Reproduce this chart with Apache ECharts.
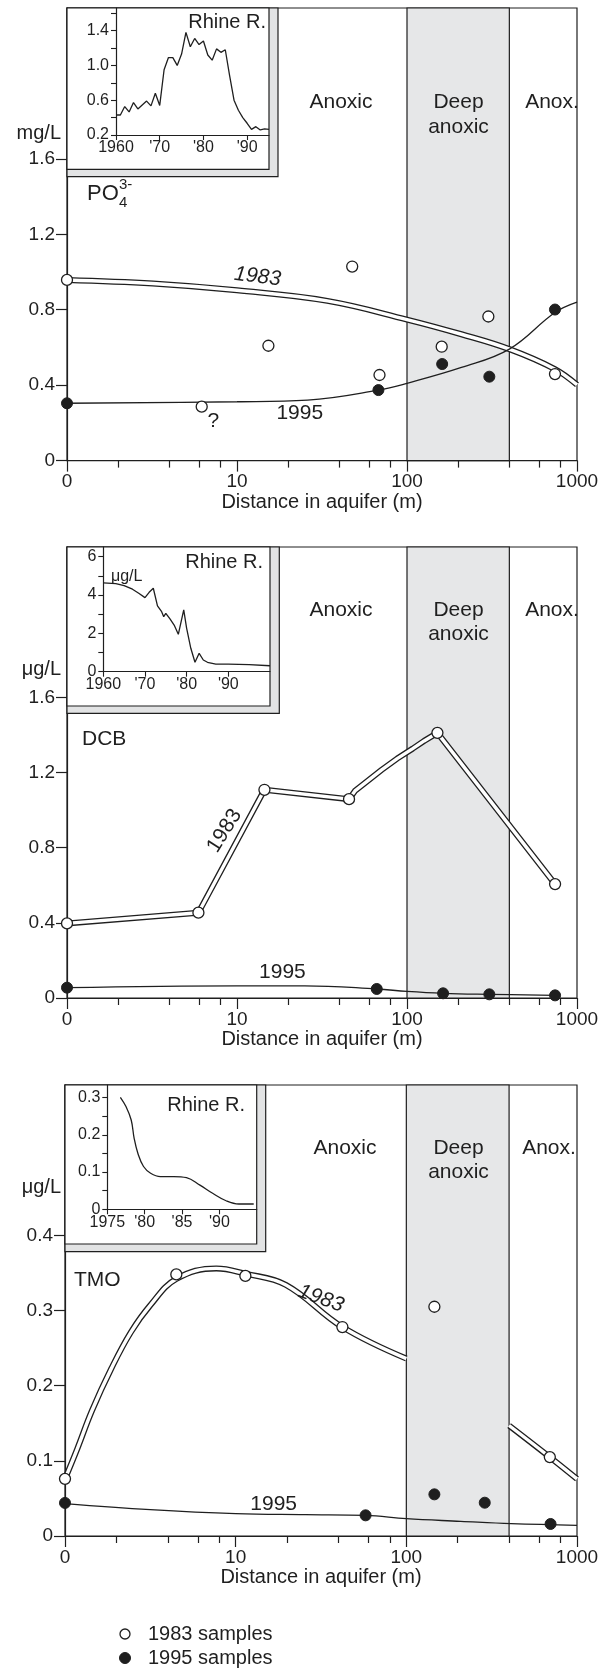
<!DOCTYPE html>
<html><head><meta charset="utf-8">
<script src="https://cdn.jsdelivr.net/npm/echarts@6/dist/echarts.min.js"></script>
<style>html,body{margin:0;padding:0;background:#fff}#c{width:603px;height:1672px}</style>
</head><body><div id="c"></div>
<script>
// ================= DATA =================
// Main x axis (distance in aquifer, m; "0" is drawn at 1 on the log scale)
const MAIN_X_TICKS = [1, 10, 100, 1000];
const MAIN_X_LABELS = ['0', '10', '100', '1000'];
const MINOR_X_TICKS = [2, 4, 6, 8, 20, 40, 60, 80, 200, 400, 600, 800];
const DEEP_ANOXIC = [100, 400];

// Panel 1: PO4 (mg/L)
const PO4_Y_TICKS = [0, 0.4, 0.8, 1.2, 1.6];
const PO4_1983_X = [1, 6.2, 15.3, 47.6, 68.9, 160, 301, 742];
const PO4_1983_Y = [0.958, 0.286, 0.609, 1.029, 0.454, 0.604, 0.764, 0.459];
const PO4_1995_X = [1, 67.9, 161, 305, 742];
const PO4_1995_Y = [0.304, 0.374, 0.512, 0.445, 0.801];
const PO4_FIT1983_X = [1, 3.2, 10, 34, 100, 209, 400, 742, 1000];
const PO4_FIT1983_Y = [0.958, 0.939, 0.903, 0.847, 0.748, 0.67, 0.591, 0.485, 0.402];
const PO4_FIT1995_X = [1, 10, 26, 68, 100, 209, 400, 742, 1000];
const PO4_FIT1995_Y = [0.304, 0.312, 0.321, 0.374, 0.41, 0.494, 0.591, 0.785, 0.84];

// Panel 2: DCB (ug/L)
const DCB_Y_TICKS = [0, 0.4, 0.8, 1.2, 1.6];
const DCB_1983_X = [1, 5.93, 14.5, 45.6, 151, 743];
const DCB_1983_Y = [0.397, 0.454, 1.108, 1.058, 1.411, 0.606];
const DCB_1995_X = [1, 66.4, 163, 305, 743];
const DCB_1995_Y = [0.055, 0.048, 0.025, 0.0195, 0.014];
const DCB_FIT1983_X = [1, 5.93, 14.5, 45.6, 49.4, 57.7, 70.9, 87.5, 108, 126, 151, 743];
const DCB_FIT1983_Y = [0.397, 0.454, 1.108, 1.058, 1.102, 1.150, 1.214, 1.274, 1.327, 1.368, 1.411, 0.606];
const DCB_FIT1995_X = [1, 10, 25, 66.4, 100, 163, 305, 743];
const DCB_FIT1995_Y = [0.055, 0.065, 0.065, 0.048, 0.035, 0.025, 0.0195, 0.014];

// Panel 3: TMO (ug/L)
const TMO_Y_TICKS = [0, 0.1, 0.2, 0.3, 0.4];
const TMO_1983_X = [1, 4.49, 11.4, 42.2, 146, 693];
const TMO_1983_Y = [0.076, 0.348, 0.346, 0.278, 0.305, 0.105];
const TMO_1995_X = [1, 57.7, 146, 288, 700];
const TMO_1995_Y = [0.044, 0.0275, 0.0554, 0.0443, 0.016];
const TMO_FIT1983_X = [1, 1.18, 1.44, 1.87, 2.43, 3.16, 4.49, 7.7, 11.4, 19.7, 42.2, 100, 200, 400, 693, 1000];
const TMO_FIT1983_Y = [0.076, 0.116, 0.167, 0.223, 0.271, 0.307, 0.342, 0.356, 0.349, 0.334, 0.278, 0.236, null, 0.147, 0.105, 0.076];
const TMO_FIT1995_X = [1, 3.16, 10, 25.6, 57.7, 100, 208, 411, 1000];
const TMO_FIT1995_Y = [0.043, 0.035, 0.0297, 0.0284, 0.0275, 0.023, 0.0195, 0.0164, 0.0142];

// Insets: Rhine River
const RHINE_PO4_YEARS = [1960,1961,1962,1963,1964,1965,1966,1967,1968,1969,1970,1971,1972,1973,1974,1975,1976,1977,1978,1979,1980,1981,1982,1983,1984,1985,1986,1987,1988,1989,1990,1991,1992,1993,1994,1995];
const RHINE_PO4 = [0.43,0.43,0.527,0.465,0.573,0.50,0.546,0.59,0.535,0.68,0.54,0.95,1.09,1.09,1.00,1.13,1.38,1.215,1.31,1.24,1.28,1.12,1.06,1.19,1.15,1.18,0.88,0.6,0.485,0.4,0.335,0.265,0.296,0.258,0.27,0.265];
const RHINE_PO4_X_TICKS = [1960, 1970, 1980, 1990];
const RHINE_PO4_Y_TICKS = [0.2,0.4,0.6,0.8,1.0,1.2,1.4,1.6];
const RHINE_PO4_Y_LABELS = [0.2, 0.6, 1.0, 1.4];

const RHINE_DCB_YEARS = [1960,1963,1965,1967,1968.5,1970,1971,1972,1973,1974,1974.5,1975,1976,1977,1978,1979.3,1980,1981,1982,1983,1984,1985,1987,1990,1995,2000];
const RHINE_DCB = [4.63,4.59,4.49,4.3,4.09,3.86,4.14,4.35,3.43,3.13,2.87,3.04,2.75,2.43,1.95,3.22,2.26,1.22,0.49,0.96,0.61,0.49,0.40,0.40,0.37,0.31];
const RHINE_DCB_X_TICKS = [1960, 1970, 1980, 1990];
const RHINE_DCB_Y_TICKS = [0,1,2,3,4,5,6];
const RHINE_DCB_Y_LABELS = [0, 2, 4, 6];

const RHINE_TMO_YEARS = [1976.75,1977.5,1978.2,1978.6,1979.1,1979.85,1980.8,1982.1,1983.9,1985.6,1987.4,1989.1,1990.9,1992.6,1994.6];
const RHINE_TMO = [0.301,0.276,0.24,0.19,0.15,0.115,0.097,0.088,0.088,0.085,0.065,0.043,0.023,0.0143,0.0143];
const RHINE_TMO_X_TICKS = [1975, 1980, 1985, 1990];
const RHINE_TMO_Y_TICKS = [0,0.05,0.1,0.15,0.2,0.25,0.3];
const RHINE_TMO_Y_LABELS = [0, 0.1, 0.2, 0.3];

const LEGEND_LABELS = ['1983 samples', '1995 samples'];

// ================= STYLE / LAYOUT =================
const FONT = 'Liberation Sans, Arial, Helvetica, sans-serif';
const INK = '#1f1f1f';
const SHADE = '#e6e7e8';
const BAND = '#e2e3e4';

const zip = (xs, ys) => xs.map((x, i) => [x, ys[i] == null ? '-' : ys[i]]);
const fmt1 = v => v === 0 ? '0' : v.toFixed(1);
const yrFmt = first => v => v === first ? String(v) : "'" + String(v).slice(2);

const PANELS = [
  { grid:{left:67, top:8, width:510, height:452.6}, ymax:2.4, yTicks:PO4_Y_TICKS,
    s83:[PO4_1983_X,PO4_1983_Y], s95:[PO4_1995_X,PO4_1995_Y],
    f83:[PO4_FIT1983_X,PO4_FIT1983_Y], f95:[PO4_FIT1995_X,PO4_FIT1995_Y], smooth83:0.4,
    inset:{grid:{left:116, top:8, width:153, height:127}, xmin:1960, xmax:1995, ymin:0.2, ymax:1.66,
      xt:RHINE_PO4_X_TICKS, yt:RHINE_PO4_Y_TICKS, yl:RHINE_PO4_Y_LABELS, yfmt:fmt1,
      data:zip(RHINE_PO4_YEARS,RHINE_PO4), smooth:false} },
  { grid:{left:67, top:547, width:510, height:451}, ymax:2.4, yTicks:DCB_Y_TICKS,
    s83:[DCB_1983_X,DCB_1983_Y], s95:[DCB_1995_X,DCB_1995_Y],
    f83:[DCB_FIT1983_X,DCB_FIT1983_Y], f95:[DCB_FIT1995_X,DCB_FIT1995_Y], smooth83:false,
    inset:{grid:{left:103.3, top:547, width:166.7, height:124.7}, xmin:1960, xmax:2000, ymin:0, ymax:6.5,
      xt:RHINE_DCB_X_TICKS, yt:RHINE_DCB_Y_TICKS, yl:RHINE_DCB_Y_LABELS, yfmt:v=>String(v),
      data:zip(RHINE_DCB_YEARS,RHINE_DCB), smooth:false} },
  { grid:{left:65, top:1085, width:512, height:451}, ymax:0.6, yTicks:TMO_Y_TICKS,
    s83:[TMO_1983_X,TMO_1983_Y], s95:[TMO_1995_X,TMO_1995_Y],
    f83:[TMO_FIT1983_X,TMO_FIT1983_Y], f95:[TMO_FIT1995_X,TMO_FIT1995_Y], smooth83:0.4,
    inset:{grid:{left:107.3, top:1085, width:149.4, height:124.3}, xmin:1975, xmax:1995, ymin:0, ymax:0.334,
      xt:RHINE_TMO_X_TICKS, yt:RHINE_TMO_Y_TICKS, yl:RHINE_TMO_Y_LABELS, yfmt:fmt1,
      data:zip(RHINE_TMO_YEARS,RHINE_TMO), smooth:0.4} }
];

const grid = [], xAxis = [], yAxis = [], series = [];
const axisLine = {show:true, lineStyle:{color:INK, width:1.2}};

PANELS.forEach((p, i) => {
  grid.push(Object.assign({show:true, borderColor:INK, borderWidth:1.2, backgroundColor:'transparent', containLabel:false}, p.grid));
  const gi = grid.length - 1;
  const xMain = xAxis.length;
  xAxis.push({type:'log', logBase:10, min:1, max:1000, gridIndex:gi, position:'bottom',
    axisLine, splitLine:{show:false}, minorTick:{show:false},
    axisTick:{show:true, length:11, inside:false, customValues:MAIN_X_TICKS, lineStyle:{color:INK, width:1.2}},
    axisLabel:{show:true, customValues:MAIN_X_TICKS, margin:12, color:INK, fontFamily:FONT, fontSize:19,
      formatter:v => MAIN_X_LABELS[MAIN_X_TICKS.indexOf(v)] ?? String(v)},
    name:'Distance in aquifer (m)', nameLocation:'middle', nameGap:26,
    nameTextStyle:{color:INK, fontFamily:FONT, fontSize:20}});
  xAxis.push({type:'log', logBase:10, min:1, max:1000, gridIndex:gi, position:'bottom',
    axisLine:{show:false}, splitLine:{show:false}, axisLabel:{show:false},
    axisTick:{show:true, length:7, inside:false, customValues:MINOR_X_TICKS, lineStyle:{color:INK, width:1.2}}});
  const yMain = yAxis.length;
  yAxis.push({type:'value', min:0, max:p.ymax, gridIndex:gi, position:'left',
    axisLine, splitLine:{show:false},
    axisTick:{show:true, length:11, inside:false, customValues:p.yTicks, lineStyle:{color:INK, width:1.2}},
    axisLabel:{show:true, customValues:p.yTicks, margin:12, color:INK, fontFamily:FONT, fontSize:19, formatter:fmt1}});

  const base = {xAxisIndex:xMain, yAxisIndex:yMain, silent:true, animation:false};
  // Deep anoxic zone
  series.push(Object.assign({type:'line', data:[], z:1,
    markArea:{silent:true, itemStyle:{color:SHADE, borderColor:INK, borderWidth:1.2},
      data:[[{xAxis:DEEP_ANOXIC[0]}, {xAxis:DEEP_ANOXIC[1]}]]}}, base));
  // 1983 fitted curve (double line)
  const f83 = zip(p.f83[0], p.f83[1]);
  series.push(Object.assign({type:'line', data:f83, smooth:p.smooth83, showSymbol:false, connectNulls:false, z:2,
    lineStyle:{color:INK, width:6, cap:'butt', join:'round'}}, base));
  series.push(Object.assign({type:'line', data:f83, smooth:p.smooth83, showSymbol:false, connectNulls:false, z:2,
    lineStyle:{color:'#ffffff', width:3.4, cap:'butt', join:'round'}}, base));
  // 1995 fitted curve
  series.push(Object.assign({type:'line', data:zip(p.f95[0], p.f95[1]), smooth:0.4, showSymbol:false, z:2,
    lineStyle:{color:INK, width:1.3}}, base));
  // samples
  series.push(Object.assign({type:'scatter', name:LEGEND_LABELS[0], data:zip(p.s83[0], p.s83[1]), symbol:'circle', symbolSize:11, z:4,
    itemStyle:{color:'#ffffff', borderColor:INK, borderWidth:1.3, opacity:1}}, base));
  series.push(Object.assign({type:'scatter', name:LEGEND_LABELS[1], data:zip(p.s95[0], p.s95[1]), symbol:'circle', symbolSize:11, z:4,
    itemStyle:{color:INK, borderColor:INK, borderWidth:1, opacity:1}}, base));
  p.xMain = xMain; p.yMain = yMain;
});

PANELS.forEach((p, i) => {
  const q = p.inset;
  grid.push(Object.assign({show:false, containLabel:false}, q.grid));
  const gi = grid.length - 1;
  const xi = xAxis.length;
  xAxis.push({type:'value', min:q.xmin, max:q.xmax, gridIndex:gi, z:6, axisLine, splitLine:{show:false},
    axisTick:{show:true, length:5, customValues:q.xt, lineStyle:{color:INK, width:1.1}},
    axisLabel:{show:true, customValues:q.xt, margin:5, color:INK, fontFamily:FONT, fontSize:16, formatter:yrFmt(q.xt[0])}});
  const yi = yAxis.length;
  yAxis.push({type:'value', min:q.ymin, max:q.ymax, gridIndex:gi, z:6, axisLine, splitLine:{show:false},
    axisTick:{show:true, length:5, customValues:q.yt, lineStyle:{color:INK, width:1.1}},
    axisLabel:{show:true, customValues:q.yl, margin:7, color:INK, fontFamily:FONT, fontSize:16, formatter:q.yfmt}});
  series.push({type:'line', xAxisIndex:xi, yAxisIndex:yi, data:q.data, smooth:q.smooth, showSymbol:false, z:6, silent:true,
    animation:false, lineStyle:{color:INK, width:1.3}});
});

const chart = echarts.init(document.getElementById('c'), null, {renderer:'canvas', width:603, height:1672});
chart.setOption({
  animation:false, backgroundColor:'#ffffff',
  textStyle:{fontFamily:FONT, color:INK},
  grid, xAxis, yAxis, series
});

// ---------- annotations ----------
const px = (p, x, y) => chart.convertToPixel({xAxisIndex:p.xMain, yAxisIndex:p.yMain}, [x, y]);
function T(text, x, y, o) {
  o = o || {};
  return {type:'text', x, y, rotation:(o.rot || 0) * Math.PI / 180, z:10, silent:true,
    style:{text, fill:INK, fontFamily:FONT, fontSize:o.size || 20, fontStyle:o.italic ? 'italic' : 'normal',
      textAlign:o.align || 'center', textVerticalAlign:o.va || 'middle', align:o.align || 'center', verticalAlign:o.va || 'middle'}};
}
function frame(l, t, r, b, r2, b2) {
  return [
    {type:'rect', z:3, silent:true, shape:{x:l, y:t, width:r2 - l, height:b2 - t}, style:{fill:BAND, stroke:INK, lineWidth:1.2}},
    {type:'rect', z:3, silent:true, shape:{x:l, y:t, width:r - l, height:b - t}, style:{fill:'#ffffff', stroke:INK, lineWidth:1.2}}
  ];
}
const g = [];
g.push(...frame(67, 8, 269, 169.3, 278, 176.7));
g.push(...frame(67, 547, 270, 706, 279.3, 713.3));
g.push(...frame(65, 1085, 256.7, 1244, 265.7, 1251.7));

// Rhine labels
g.push(T('Rhine R.', 266, 22, {align:'right'}));
g.push(T('Rhine R.', 263, 562, {align:'right'}));
g.push(T('Rhine R.', 245, 1105, {align:'right'}));
g.push(T('\u03bcg/L', 111, 577, {align:'left', size:16}));

// units & parameter names
g.push(T('mg/L', 61, 133, {align:'right', size:20}));
g.push(T('\u03bcg/L', 61, 669, {align:'right', size:20}));
g.push(T('\u03bcg/L', 61, 1187, {align:'right', size:20}));
g.push(T('PO', 87, 194, {align:'left', size:22}));
g.push(T('4', 119, 203, {align:'left', size:15}));
g.push(T('3-', 119, 185, {align:'left', size:15}));
g.push(T('DCB', 82, 739, {align:'left', size:21}));
g.push(T('TMO', 74, 1280, {align:'left', size:21}));

// zones
[[102, 127, 341, 552], [610, 634, 341, 552], [1148, 1172, 345, 549]].forEach(([y1, y2, xa, xb]) => {
  g.push(T('Anoxic', xa, y1, {size:21}));
  g.push(T('Deep', 458.5, y1, {size:21}));
  g.push(T('anoxic', 458.5, y2, {size:21}));
  g.push(T('Anox.', xb, y1, {size:21}));
});

// curve labels placed at data coordinates
let c;
c = px(PANELS[0], 13.2, 0.975); g.push(T('1983', c[0], c[1], {italic:true, rot:-7, size:21}));
c = px(PANELS[0], 23.4, 0.25); g.push(T('1995', c[0], c[1], {size:21}));
c = px(PANELS[0], 7.25, 0.21); g.push(T('?', c[0], c[1], {size:21}));
c = px(PANELS[1], 8.45, 0.89); g.push(T('1983', c[0], c[1], {rot:58, size:21}));
c = px(PANELS[1], 18.5, 0.136); g.push(T('1995', c[0], c[1], {size:21}));
c = px(PANELS[2], 31.6, 0.316); g.push(T('1983', c[0], c[1], {italic:true, rot:-20, size:21}));
c = px(PANELS[2], 16.7, 0.0417); g.push(T('1995', c[0], c[1], {size:21}));

// legend (sample symbols)
g.push({type:'circle', z:10, silent:true, shape:{cx:125, cy:1634, r:5}, style:{fill:'#ffffff', stroke:INK, lineWidth:1.3}});
g.push({type:'circle', z:10, silent:true, shape:{cx:125, cy:1658, r:5.5}, style:{fill:INK, stroke:INK, lineWidth:1}});
g.push(T(LEGEND_LABELS[0], 148, 1634, {align:'left', size:20}));
g.push(T(LEGEND_LABELS[1], 148, 1658, {align:'left', size:20}));

chart.setOption({graphic:{elements:g}});
</script>
</body></html>
